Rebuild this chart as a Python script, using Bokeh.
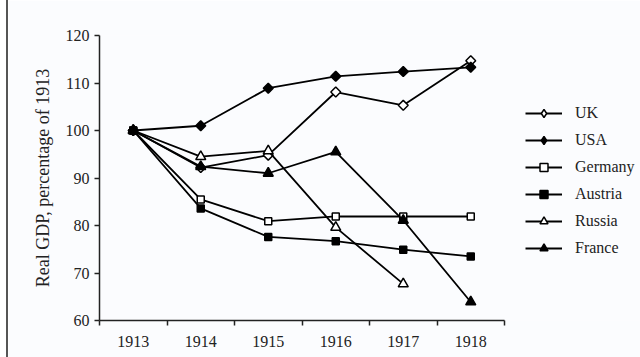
from bokeh.plotting import figure
from bokeh.models import (Range1d, FixedTicker, Legend, LegendItem, Div, Spacer, ColumnDataSource)
from bokeh.layouts import row
from bokeh.embed import file_html
from bokeh.resources import INLINE
import math

years = ["1913", "1914", "1915", "1916", "1917", "1918"]
uk = [100, 92.2, 94.8, 108.1, 105.3, 114.7]
usa = [100, 101.0, 108.9, 111.4, 112.4, 113.3]
germany = [100, 85.5, 80.9, 81.9, 81.9, 81.9]
austria = [100, 83.6, 77.6, 76.7, 74.9, 73.5]
russia = [100, 94.5, 95.7, 79.6, 67.7]
france = [100, 92.4, 91.0, 95.5, 81.1, 63.9]
y_ticks = [60, 70, 80, 90, 100, 110, 120]

FONT = "Liberation Serif"
BG = "#fbfcfe"

n = len(years)
x_max = n * 541 / 405

p = figure(width=632, height=357, output_backend="svg", toolbar_location=None,
           x_range=Range1d(0, x_max), y_range=Range1d(60, 120),
           min_border_left=91, min_border_right=0, min_border_top=35, min_border_bottom=37,
           background_fill_color=BG, border_fill_color=BG)
p.outline_line_color = None
p.grid.visible = False

xs = [i + 0.5 for i in range(n)]

xa = p.xaxis[0]
xa.bounds = (0, n)
xa.ticker = FixedTicker(ticks=xs, minor_ticks=list(range(n + 1)))
xa.major_label_overrides = {x: y for x, y in zip(xs, years)}
xa.major_tick_out = 0
xa.major_tick_in = 0
xa.minor_tick_out = 5
xa.minor_tick_in = 0
xa.minor_tick_line_color = "#222222"
xa.minor_tick_line_width = 1.5
xa.axis_line_color = "#222222"
xa.axis_line_width = 1.5
xa.major_label_standoff = 10
xa.major_label_text_font = FONT
xa.major_label_text_font_size = "16px"
xa.major_label_text_color = "#222222"

ya = p.yaxis[0]
ya.ticker = FixedTicker(ticks=y_ticks, minor_ticks=[])
ya.major_tick_out = 5
ya.major_tick_in = 0
ya.major_tick_line_color = "#222222"
ya.major_tick_line_width = 1.5
ya.axis_line_color = "#222222"
ya.axis_line_width = 1.5
ya.major_label_standoff = 5
ya.major_label_text_font = FONT
ya.major_label_text_font_size = "16px"
ya.major_label_text_color = "#222222"
ya.axis_label = "Real GDP, percentage of 1913"
ya.axis_label_text_font = FONT
ya.axis_label_text_font_size = "18px"
ya.axis_label_text_font_style = "normal"
ya.axis_label_text_color = "#222222"
ya.axis_label_standoff = 10

series = [
    ("UK", uk, "square", math.pi / 4, 7, "diamond", 12, "white"),
    ("USA", usa, "square", math.pi / 4, 7, "diamond", 12, "black"),
    ("Germany", germany, "square", 0, 7, "square", 7, "white"),
    ("Austria", austria, "square", 0, 7, "square", 7, "black"),
    ("Russia", russia, "triangle", 0, 10, "triangle", 10, "white"),
    ("France", france, "triangle", 0, 10, "triangle", 10, "black"),
]

items = []
for name, vals, marker, ang, size, lmarker, lsize, fill in series:
    x = xs[:len(vals)]
    lr = p.line(x, vals, line_color="black", line_width=1.8)
    sr = p.scatter(x, vals, marker=marker, angle=ang, size=size,
                   fill_color=fill, line_color="black", line_width=1.5)
    if ang:
        # swatch-only renderer: a single non-finite point, never drawn in the plot
        sw = ColumnDataSource(data=dict(x=[float("nan")], y=[float("nan")]))
        lg = p.scatter("x", "y", source=sw, marker=lmarker, size=lsize,
                       fill_color=fill, line_color="black", line_width=1.5)
        items.append(LegendItem(label=name, renderers=[lr, lg]))
    else:
        items.append(LegendItem(label=name, renderers=[lr, sr]))

legend = Legend(items=items, location=(426, 62), orientation="vertical",
                glyph_width=37, glyph_height=20, label_height=20,
                label_standoff=13, spacing=7, padding=0, margin=0,
                border_line_color=None, background_fill_alpha=0,
                label_text_font=FONT, label_text_font_size="16px",
                label_text_color="#222222")
p.add_layout(legend, "center")

bar = Div(width=2, height=357, margin=0, styles={"background-color": "#555555"})
layout = row(Spacer(width=6, height=357), bar, p, margin=0, spacing=0)

open("out.html", "w").write(file_html(layout, INLINE))
